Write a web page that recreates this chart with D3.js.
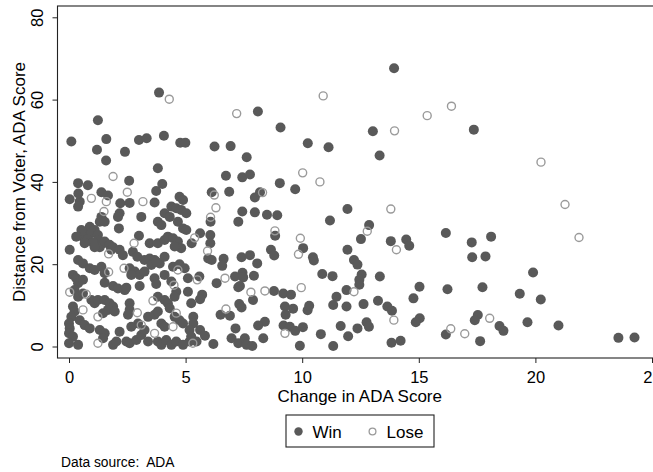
<!DOCTYPE html>
<html>
<head>
<meta charset="utf-8">
<script src="https://cdn.jsdelivr.net/npm/d3@7"></script>
<style>
  html, body { margin: 0; padding: 0; background: #fff; }
  svg text { font-family: "Liberation Sans", Arial, Helvetica, sans-serif; fill: #000; }
</style>
</head>
<body>
<div id="chart"></div>
<script>
// [change in ADA score, distance from voter]
var win = [
  [0.1,49.8],[1.24,55.0],[1.6,50.4],[1.2,47.8],[1.59,45.2],[2.4,47.3],[3.0,50.2],[3.33,50.6],[3.86,61.7],[4.07,51.2],
  [3.81,43.3],[4.77,49.5],[4.99,49.5],[6.24,48.6],[6.93,48.7],[8.1,57.1],[7.62,46.0],[9.07,53.2],[10.24,49.4],[11.13,48.4],
  [13.94,67.6],[13.03,52.3],[13.32,46.4],[11.94,33.4],[11.19,30.6],[12.87,29.5],[12.52,26.1],[13.8,25.6],[14.46,26.0],[14.59,24.5],
  [16.16,27.6],[11.94,23.5],[12.22,21.0],[12.37,19.9],[11.3,17.1],[12.55,17.5],[12.45,16.2],[12.45,15.0],[13.33,17.0],[11.9,13.7],
  [11.47,12.1],[11.33,10.1],[11.9,9.7],[12.63,10.3],[13.25,11.1],[13.65,9.7],[13.85,8.7],[15.03,14.5],[14.77,11.7],[16.23,13.9],
  [15.04,6.85],[14.87,5.9],[11.65,5.0],[12.37,4.4],[12.76,5.9],[12.86,4.8],[11.97,2.5],[11.33,0.1],[13.83,0.9],[14.22,1.4],
  [16.16,2.9],[17.36,52.7],[18.1,26.7],[17.27,25.3],[17.29,21.7],[17.86,21.9],[19.9,18.0],[17.73,14.4],[19.33,12.8],[20.23,11.4],
  [17.53,7.65],[17.4,6.4],[18.46,5.0],[18.63,3.8],[19.66,5.9],[20.99,5.1],[17.63,1.3],[23.56,2.1],[24.25,2.2],
  [6.73,41.5],[7.43,41.1],[7.76,41.8],[9.04,39.7],[9.7,38.2],[6.12,37.5],[6.87,37.6],[7.97,36.2],[8.19,37.5],[7.43,32.8],
  [7.97,32.6],[8.49,32.0],[8.93,31.9],[7.26,30.3],[6.07,30.3],[8.84,26.9],[5.62,27.5],[5.26,25.1],[6.06,27.1],[6.06,25.1],
  [10.04,23.9],[8.66,23.5],[8.8,22.1],[10.46,21.7],[10.5,20.9],[5.97,21.4],[6.12,21.0],[6.63,21.3],[6.57,19.6],[7.4,21.7],
  [7.76,22.2],[8.07,20.2],[7.44,17.9],[7.12,17.0],[7.47,16.8],[7.93,17.2],[10.86,17.6],[5.59,17.0],[6.33,15.4],[7.26,14.4],
  [7.33,14.7],[8.79,13.5],[9.19,12.9],[9.52,12.6],[7.89,11.3],[5.71,12.6],[5.62,11.5],[7.3,10.3],[7.4,9.5],[6.5,7.7],
  [6.9,7.5],[9.26,9.7],[9.61,9.2],[9.29,7.7],[10.23,8.8],[10.3,9.9],[5.33,7.2],[5.33,5.6],[8.4,6.0],[8.11,5.1],
  [7.14,4.4],[9.2,5.1],[9.47,4.8],[9.7,3.8],[10.03,4.7],[10.8,3.0],[5.62,4.0],[5.83,2.6],[5.47,1.2],[6.19,0.6],
  [6.97,2.0],[7.26,0.8],[7.54,2.0],[7.62,0.4],[7.86,0.1],[8.33,2.0],[9.9,0.2],
  [2.58,40.3],[0.39,39.7],[0.81,39.2],[1.39,37.5],[1.67,36.7],[0.03,35.8],[0.46,35.2],[0.39,34.0],[0.4,37.2],[2.2,34.8],
  [2.6,34.9],[3.67,35.0],[3.74,37.8],[4.0,39.5],[4.74,36.4],[4.89,35.6],[4.39,34.0],[4.6,33.6],[4.81,33.2],[5.03,32.4],
  [2.17,32.4],[2.1,31.5],[3.1,31.5],[1.39,31.5],[1.32,30.3],[1.53,30.3],[4.1,32.4],[4.32,31.5],[3.81,30.3],[3.96,29.5],
  [4.67,30.3],[4.89,28.7],[5.03,28.3],[2.14,28.7],
  [0.89,29.1],[1.1,28.3],[0.74,27.9],[0.53,28.3],[0.96,27.5],[1.24,27.1],[0.6,26.7],[0.31,26.7],[0.81,26.1],[1.24,25.9],
  [1.03,25.2],[0.67,25.1],[1.46,25.1],[1.32,24.1],[1.1,24.1],
  [3.0,26.9],[3.46,25.1],[3.81,25.1],[4.1,25.9],[4.24,26.7],[4.46,26.3],[4.67,25.5],[4.81,23.9],[4.53,24.3],[0.03,23.5],
  [1.53,25.5],[1.74,24.7],[1.81,23.5],[1.89,24.1],[2.17,23.5],[2.31,22.2],[2.74,23.0],[2.93,21.8],[3.24,21.0],[3.46,21.4],
  [3.67,21.0],[3.89,20.2],[4.1,21.8],[4.46,19.4],[4.74,20.0],[4.96,19.0],[0.39,21.0],[0.6,20.2],[0.89,19.0],[1.1,18.6],
  [1.39,19.4],[1.53,17.8],[2.6,19.0],[2.82,18.2],[3.03,17.4],[2.67,17.4],[3.24,18.2],[3.53,19.8],[3.74,20.6],[0.17,17.4],
  [0.31,16.6],[0.39,15.4],[0.6,16.2],[3.67,16.6],[3.74,15.2],[1.53,15.5],[1.89,14.7],[2.1,14.1],[2.39,13.7],[2.46,14.3],
  [3.03,14.7],[4.1,17.4],[4.39,15.8],[4.6,13.3],[4.53,12.1],[5.1,16.6],[5.1,13.3],[5.24,10.5],[0.24,13.7],[0.39,12.1],
  [0.6,12.9],[0.96,11.3],[1.1,10.5],[1.24,11.3],[0.17,9.7],[0.24,8.5],[0.1,7.2],[1.53,11.3],[1.74,10.5],[1.89,9.7],
  [1.67,8.9],[1.96,8.5],[1.46,8.1],[2.6,10.5],[2.6,8.9],[2.53,7.7],[2.96,5.6],[3.81,12.1],[4.1,11.3],[4.24,10.5],
  [4.32,9.3],[4.53,7.2],[4.74,6.4],[4.89,5.6],[3.39,7.2],[3.67,7.7],[3.81,8.5],[3.96,5.6],[4.1,4.8],[5.17,4.0],
  [5.24,2.4],[5.17,1.2],[0,5.6],[0.03,4.4],[0,3.2],[0.17,2.4],[0,0.8],[0.39,0.4],[0.46,6.4],[0.67,5.2],
  [0.89,4.4],[1.32,4.0],[1.53,3.2],[1.46,2.0],[1.89,0.4],[2.03,1.2],[2.17,3.6],[2.46,1.2],[2.6,0.8],[2.89,1.6],
  [3.39,1.2],[3.81,1.2],[3.96,0.4],[4.17,1.6],[4.39,0.4],[4.6,1.2],[4.89,0.4],[3.1,2.8],[3.24,4.0],[2.67,4.8]
];

var lose = [
  [4.3,60.1],[7.19,56.6],[10.9,60.9],[10.02,42.2],[16.4,58.4],[15.36,56.1],[13.96,52.4],[13.8,33.4],[12.79,28.0],[14.04,23.5],
  [12.22,13.3],[13.93,6.4],[16.37,4.3],[16.97,3.1],[20.24,44.8],[21.27,34.5],[21.87,26.5],[18.04,6.85],
  [10.76,40.0],[6.23,36.8],[8.3,37.4],[6.3,33.7],[6.07,31.4],[8.83,28.1],[5.39,26.4],[9.92,26.3],[9.84,22.4],[5.94,23.2],
  [5.5,16.2],[6.69,16.6],[7.8,13.2],[8.4,13.5],[9.96,14.3],[6.73,9.1],[9.26,3.2],
  [1.89,41.3],[2.5,37.5],[0.96,36.0],[1.6,35.2],[3.17,35.2],[1.5,32.8],[2.79,25.1],[1.7,22.5],[4.67,18.6],[1.7,18.1],
  [2.36,19.0],[4.5,14.9],[0.03,13.2],[0.74,12.7],[0.6,8.9],[1.24,7.2],[2.93,8.2],[3.1,5.2],[3.6,11.1],[4.6,8.1],
  [4.46,4.8],[3.67,3.2],[5.31,0.8],[1.24,0.8]
];

var xTicks = [0, 5, 10, 15, 20, 25];
var yTicks = [0, 20, 40, 60, 80];
var legendItems = ["Win", "Lose"];

var W = 653, H = 472;
var box = {left: 57.5, top: 6, bottom: 358, right: 662};
var winColor = "#595959", loseColor = "#9a9a9a";

var svg = d3.select("#chart").append("svg")
    .attr("width", W).attr("height", H)
    .attr("viewBox", "0 0 " + W + " " + H);

svg.append("rect").attr("width", W).attr("height", H).attr("fill", "#fff");

var x = d3.scaleLinear().domain([0, 25]).range([69, 652]);
var y = d3.scaleLinear().domain([0, 80]).range([346.5, 17.3]);

// plot region outline (axes lines are its left and bottom sides)
svg.append("rect")
    .attr("x", box.left).attr("y", box.top)
    .attr("width", box.right - box.left).attr("height", box.bottom - box.top)
    .attr("fill", "none").attr("stroke", "#222").attr("stroke-width", 1.1);

var xAxis = svg.append("g")
    .attr("transform", "translate(0," + box.bottom + ")")
    .call(d3.axisBottom(x).tickValues(xTicks).tickSize(5).tickSizeOuter(0).tickPadding(8));
xAxis.select(".domain").remove();
xAxis.selectAll("line").attr("stroke", "#222");
xAxis.selectAll("text").attr("font-size", 16.5).style("font-family", null);

var yAxis = svg.append("g")
    .attr("transform", "translate(" + box.left + ",0)")
    .call(d3.axisLeft(y).tickValues(yTicks).tickSize(5).tickSizeOuter(0));
yAxis.select(".domain").remove();
yAxis.selectAll("line").attr("stroke", "#222");
yAxis.selectAll("text")
    .attr("font-size", 16.5)
    .attr("transform", "rotate(-90)")
    .attr("x", 0).attr("y", -14.2).attr("dy", null)
    .attr("text-anchor", "middle");
svg.selectAll(".tick text").attr("fill", "#000");

// markers
svg.append("g").selectAll("circle.win")
    .data(win).enter().append("circle").classed("win", true)
    .attr("cx", function(d){ return x(d[0]); })
    .attr("cy", function(d){ return y(d[1]); })
    .attr("r", 5)
    .attr("fill", winColor);

svg.append("g").selectAll("circle.lose")
    .data(lose).enter().append("circle").classed("lose", true)
    .attr("cx", function(d){ return x(d[0]); })
    .attr("cy", function(d){ return y(d[1]); })
    .attr("r", 4)
    .attr("fill", "none")
    .attr("stroke", loseColor)
    .attr("stroke-width", 1.4);

// titles
svg.append("text")
    .attr("x", (box.left + box.right) / 2).attr("y", 402)
    .attr("text-anchor", "middle").attr("font-size", 17)
    .text("Change in ADA Score");

svg.append("text")
    .attr("transform", "translate(25," + ((box.top + box.bottom) / 2) + ") rotate(-90)")
    .attr("text-anchor", "middle").attr("font-size", 17)
    .text("Distance from Voter, ADA Score");

// legend
var lg = svg.append("g");
lg.append("rect")
    .attr("x", 286).attr("y", 415).attr("width", 148).attr("height", 32)
    .attr("fill", "#fff").attr("stroke", "#222").attr("stroke-width", 1.1);
lg.append("circle").attr("cx", 298.5).attr("cy", 431.5).attr("r", 4.2).attr("fill", winColor);
lg.append("text").attr("x", 312.5).attr("y", 438).attr("font-size", 17).text(legendItems[0]);
lg.append("circle").attr("cx", 372.5).attr("cy", 431.5).attr("r", 3.4)
    .attr("fill", "none").attr("stroke", loseColor).attr("stroke-width", 1.3);
lg.append("text").attr("x", 386.5).attr("y", 438).attr("font-size", 17).text(legendItems[1]);

svg.append("text")
    .attr("x", 61).attr("y", 466.5).attr("font-size", 13.8)
    .text("Data source:  ADA").attr("xml:space", "preserve").style("white-space", "pre");
</script>
</body>
</html>
